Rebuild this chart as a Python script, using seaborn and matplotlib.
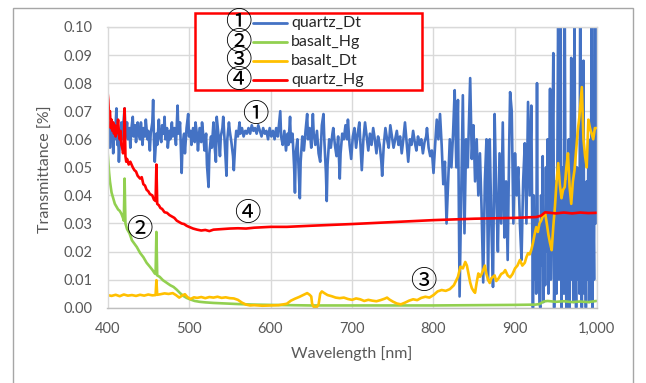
import numpy as np
import pandas as pd
import matplotlib
matplotlib.use("Agg")
import matplotlib.pyplot as plt
import seaborn as sns
from matplotlib.patches import Rectangle
from matplotlib.lines import Line2D
from matplotlib.ticker import FuncFormatter

# ---------------- data ----------------
series_names = ["quartz_Dt", "basalt_Hg", "basalt_Dt", "quartz_Hg"]
series_marks = ["\u2460", "\u2461", "\u2462", "\u2463"]
series_colors = ["#4472C4", "#92D050", "#FFC000", "#FF0000"]

x_ticks = [400, 500, 600, 700, 800, 900, 1000]
y_ticks = [0.00, 0.01, 0.02, 0.03, 0.04, 0.05, 0.06, 0.07, 0.08, 0.09, 0.10]

quartz_dt = [
    (400, .062), (401, .058), (402, .066), (403, .057), (404, .064), (405, .060), (406, .066), (407, .055),
    (408, .062), (409, .060), (411, .071), (412, .058), (413, .064), (414, .052), (415, .059), (417, .066),
    (418, .060), (419, .064), (421, .071), (422, .061), (424, .066), (425, .060), (427, .064), (428, .057),
    (429, .063), (431, .068), (432, .061), (434, .065), (435, .059), (437, .066), (438, .062), (440, .060),
    (441, .066), (443, .058), (444, .064), (446, .061), (447, .067), (449, .060), (450, .063), (452, .056),
    (453, .062), (455, .066), (456, .074), (457, .060), (458, .052), (460, .062), (461, .058), (463, .067),
    (464, .061), (466, .059), (467, .065), (469, .062), (470, .068), (471, .060), (473, .064), (474, .057),
    (476, .063), (477, .060), (479, .066), (480, .061), (482, .064), (484, .058), (486, .072), (487, .062),
    (489, .066), (491, .048), (492, .058), (494, .062), (495, .055), (497, .064), (499, .069), (500, .061),
    (502, .063), (503, .058), (505, .064), (507, .059), (508, .066), (510, .061), (511, .056), (513, .064),
    (515, .059), (516, .066), (518, .060), (519, .056), (521, .062), (522, .051), (524, .043), (525, .055),
    (527, .061), (528, .057), (530, .066), (531, .059), (533, .052), (534, .068), (536, .062), (538, .054),
    (539, .061), (541, .064), (542, .068), (544, .058), (546, .047), (547, .060), (549, .066), (550, .063),
    (552, .059), (554, .054), (555, .049), (557, .060), (558, .063), (560, .061), (562, .066), (563, .062),
    (565, .064), (567, .061), (569, .063), (571, .062), (573, .064), (575, .062), (577, .065), (579, .063),
    (581, .064), (583, .062), (585, .065), (587, .063), (589, .061), (591, .064), (593, .062), (595, .063),
    (597, .060), (599, .064), (601, .061), (603, .063), (605, .060), (607, .064), (609, .061), (611, .067),
    (612, .070), (613, .061), (615, .058), (617, .063), (619, .056), (621, .062), (622, .058), (624, .068),
    (625, .059), (627, .062), (629, .050), (630, .041), (631, .055), (633, .060), (635, .046), (636, .039),
    (637, .052), (639, .061), (641, .056), (643, .063), (645, .069), (646, .060), (648, .064), (650, .057),
    (652, .069), (653, .062), (655, .058), (657, .063), (659, .055), (661, .052), (663, .065), (665, .069),
    (666, .060), (668, .048), (669, .038), (670, .051), (672, .060), (674, .057), (676, .062), (677, .064),
    (679, .058), (681, .054), (683, .061), (685, .046), (686, .055), (688, .062), (690, .060), (692, .065),
    (694, .060), (695, .067), (697, .058), (699, .053), (701, .061), (703, .064), (705, .057), (707, .062),
    (709, .066), (711, .055), (712, .049), (714, .060), (716, .066), (718, .061), (720, .056), (722, .062),
    (724, .058), (726, .064), (728, .060), (730, .055), (732, .061), (734, .058), (736, .052), (737, .047),
    (739, .058), (741, .064), (743, .060), (745, .057), (747, .065), (749, .061), (751, .057), (753, .060),
    (755, .063), (757, .058), (759, .061), (761, .055), (763, .060), (765, .066), (767, .059), (769, .052),
    (771, .060), (773, .058), (775, .063), (777, .059), (779, .056), (781, .061), (783, .058), (785, .060),
    (787, .055), (789, .059), (791, .061), (792, .064), (794, .057), (796, .054), (798, .056), (800, .048),
    (802, .058), (804, .067), (806, .060), (808, .069), (810, .058), (812, .044), (814, .052), (816, .030),
    (818, .045), (820, .060), (822, .050), (824, .062), (826, .0775), (828, .050), (830, .074), (831, .040),
    (832, .004), (834, .040), (836, .0757), (838, .0265), (840, .060), (842, .050), (845, .0818), (847, .053),
    (849, .065), (851, .045), (853, .060), (855, .040), (857, .055), (859, .035), (861, .009), (863, .045),
    (865, .060), (867, .0098), (869, .060), (871, .030), (873, .0074), (875, .069), (877, .040), (879, .020),
    (881, .055), (883, .030), (885, .066), (887, .025), (889, .045), (891, .017), (893, .060), (894, .0768),
    (896, .070), (898, .030), (900, .055), (902, .040), (904, .050), (906, .030), (908, .017), (910, .045),
    (912, .0586), (914, .030), (916, .0733), (918, .040), (920, .072), (922, .000), (923, .040), (924, .010),
    (925, .030), (926, .005), (927, .080), (928, .010), (929, .030), (930, .002), (931, .000), (932, .040),
    (933, .015), (934, .054), (935, .002), (936, .030), (937, .008), (938, .050), (939, .020), (940, .060),
    (941, .005), (942, .040), (943, .078), (944, .010), (945, .030), (946, .060), (947, .0907), (948, .000),
    (949, .025), (950, .045), (951, .005), (952, .050), (953, .112), (954, .010), (955, .040), (956, .112),
    (957, .000), (958, .030), (959, .050), (960, .005), (961, .112), (962, .030), (963, .000), (964, .045),
    (965, .010), (966, .060), (967, .000), (968, .030), (969, .089), (970, .010), (971, .035), (972, .002),
    (973, .112), (974, .020), (975, .000), (976, .050), (977, .010), (978, .040), (979, .005), (980, .112),
    (981, .030), (982, .000), (983, .050), (984, .088), (985, .005), (986, .030), (987, .000), (988, .045),
    (989, .010), (990, .060), (991, .002), (992, .035), (993, .010), (994, .112), (995, .000), (996, .040),
    (997, .010), (998, .112), (999, .030), (1000, .112),
]

basalt_hg = [
    (400, .056), (401, .052), (402, .048), (403, .045), (405, .041), (407, .039), (409, .037), (411, .036),
    (413, .035), (415, .0345), (417, .0335), (419, .032), (420, .031), (421, .046), (422, .030), (424, .028),
    (427, .0265), (430, .024), (433, .0228), (436, .0216), (440, .0195), (444, .018), (448, .016), (452, .0146),
    (455, .0135), (458, .0122), (459, .012), (460, .027), (461, .0115), (464, .011), (468, .0098), (473, .0088),
    (477, .0080), (481, .0074), (485, .0064), (489, .0052), (493, .0042), (497, .0035), (502, .0029), (507, .0024),
    (513, .0021), (520, .0019), (530, .0017), (545, .0015), (560, .0013), (580, .0011), (600, .0010), (650, .0008),
    (700, .0008), (750, .0008), (800, .0008), (850, .0009), (900, .0010), (925, .0011), (930, .0013), (935, .0022),
    (940, .0024), (950, .0021), (960, .0023), (970, .0020), (980, .0022), (990, .0020), (1000, .0024),
]

basalt_dt = [
    (400, .0045), (405, .0042), (410, .0046), (415, .0041), (420, .0047), (425, .0043), (430, .0045), (435, .0042),
    (440, .0046), (445, .0043), (450, .0047), (455, .0044), (459, .0045), (460, .0098), (461, .0046), (465, .0048),
    (470, .0051), (475, .0049), (480, .0052), (484, .0045), (488, .0036), (492, .0044), (495, .0048), (498, .0038),
    (502, .0031), (506, .0037), (510, .0035), (515, .0038), (520, .0034), (525, .0038), (530, .0036), (535, .0039),
    (540, .0035), (545, .0037), (550, .0034), (555, .0033), (560, .0028), (565, .0018), (570, .0011), (575, .0008),
    (580, .0009), (590, .0007), (600, .0008), (610, .0009), (620, .0014), (625, .0025), (630, .0032), (635, .0038),
    (640, .0045), (645, .0052), (648, .0046), (650, .0040), (651, .0015), (653, .0003), (657, .0003), (659, .0012),
    (661, .0050), (663, .0058), (666, .0052), (670, .0045), (675, .0041), (680, .0036), (685, .0034), (690, .0036),
    (695, .0031), (700, .0028), (705, .0033), (710, .0030), (715, .0024), (720, .0028), (725, .0025), (730, .0023),
    (735, .0027), (740, .0032), (743, .0036), (746, .0029), (750, .0022), (755, .0015), (760, .0012), (765, .0018),
    (770, .0025), (775, .0030), (780, .0027), (785, .0035), (790, .0039), (795, .0036), (800, .0045), (805, .0058),
    (810, .0063), (815, .0060), (820, .0066), (825, .0080), (830, .0110), (833, .0146), (836, .0140), (839, .0163),
    (841, .0150), (843, .0120), (845, .0090), (847, .0070), (849, .0060), (851, .0053), (853, .0090), (855, .0122),
    (857, .0110), (859, .0120), (861, .0135), (863, .0150), (865, .0120), (867, .0100), (869, .0088), (871, .0105),
    (873, .0110), (875, .0115), (877, .0095), (880, .0105), (883, .0120), (886, .0125), (888, .0134), (891, .0115),
    (894, .0108), (897, .0120), (900, .0140), (903, .0150), (906, .0170), (909, .0150), (912, .0160), (914, .0180),
    (916, .0194), (918, .0190), (920, .0206), (922, .0230), (924, .0260), (926, .0287), (928, .0270), (930, .0300),
    (932, .0310), (934, .0325), (937, .0337), (939, .0300), (941, .0260), (943, .0230), (945, .0205), (947, .0290),
    (949, .0360), (951, .0450), (953, .0515), (955, .0440), (957, .0390), (959, .0420), (961, .0430), (963, .0500),
    (965, .0550), (967, .0430), (969, .0370), (971, .0450), (973, .0490), (975, .0560), (977, .0630), (979, .0680),
    (981, .0750), (982, .0786), (984, .0600), (986, .0540), (988, .0500), (990, .0670), (992, .0640), (994, .0620),
    (996, .0600), (998, .0640), (1000, .0640),
]

quartz_hg = [
    (400, .077), (401, .074), (402, .068), (403, .070), (404, .064), (405, .067), (406, .063), (407, .066),
    (408, .062), (409, .065), (410, .061), (412, .064), (413, .067), (414, .062), (415, .060), (416, .063),
    (417, .058), (418, .057), (419, .055), (420, .056), (421, .071), (422, .054), (423, .052), (424, .053),
    (426, .051), (428, .052), (431, .050), (433, .049), (435, .0485), (437, .047), (440, .046), (442, .0465),
    (444, .044), (446, .0435), (448, .042), (450, .0415), (452, .0405), (455, .040), (457, .0385), (459, .038),
    (460, .051), (461, .037), (463, .0365), (465, .0355), (467, .0352), (470, .034), (473, .0338), (476, .033),
    (479, .0325), (482, .032), (485, .031), (488, .0305), (491, .030), (494, .0298), (497, .0292), (500, .0288),
    (505, .0282), (510, .0278), (515, .0275), (520, .0277), (525, .0273), (530, .0278), (540, .0280), (550, .0282),
    (560, .0283), (570, .0282), (580, .0285), (600, .0288), (620, .0288), (650, .0292), (700, .0298), (750, .0305),
    (800, .0312), (850, .0317), (900, .0320), (926, .0323), (932, .0328), (937, .0340), (943, .0338), (950, .0336),
    (960, .0339), (970, .0336), (980, .0339), (990, .0337), (1000, .0338),
]

# label positions for the circled-number annotations (data units)
mark_pos = [(581, 0.0687), (438.5, 0.0277), (787, 0.0092), (571, 0.0334)]

# ---------------- build table ----------------
frames = []
for name, pts in zip(series_names, [quartz_dt, basalt_hg, basalt_dt, quartz_hg]):
    arr = np.array(pts)
    frames.append(pd.DataFrame({"wl": arr[:, 0], "t": arr[:, 1], "series": name}))
df = pd.concat(frames, ignore_index=True)

# ---------------- figure ----------------
sns.set_theme(style="white")
plt.rcParams["font.family"] = ["Lato", "DejaVu Sans"]

W, H = 646, 383
fig = plt.figure(figsize=(W / 100, H / 100), dpi=100)
fig.patch.set_facecolor("white")


def fx(px):
    return px / W


def fy(py):
    return 1 - py / H


ax_l, ax_r, ax_t, ax_b = 107.5, 596.5, 27.0, 307.7
ax = fig.add_axes([fx(ax_l), fy(ax_b), fx(ax_r) - fx(ax_l), fy(ax_t) - fy(ax_b)])

sns.lineplot(data=df, x="wl", y="t", hue="series", hue_order=series_names,
             palette=dict(zip(series_names, series_colors)), estimator=None, sort=False,
             legend=False, linewidth=1.9, ax=ax)

ax.set_xlim(400, 1000)
ax.set_ylim(0, 0.10)
ax.set_xticks(x_ticks)
ax.set_yticks(y_ticks)
ax.xaxis.set_major_formatter(FuncFormatter(lambda v, p: f"{int(round(v)):,}"))
ax.yaxis.set_major_formatter(FuncFormatter(lambda v, p: f"{v:.2f}"))
ax.grid(True, color="#D9D9D9", linewidth=1.0)
ax.set_axisbelow(True)
for s in ax.spines.values():
    s.set_color("#D9D9D9")
    s.set_linewidth(1.0)
ax.spines["bottom"].set_color("#BFBFBF")
ax.tick_params(axis="both", length=0, labelsize=10.5, colors="#595959")
ax.tick_params(axis="y", pad=11)
ax.tick_params(axis="x", pad=10)
ax.set_xlabel("")
ax.set_ylabel("")

# axis titles
fig.text(fx(351.5), fy(354), "Wavelength [nm]", ha="center", va="center", fontsize=11.5, color="#595959")
fig.text(fx(46), fy(169), "Transmittance [%]", ha="center", va="center", rotation=90, fontsize=11.5,
         color="#595959")

# circled-number annotations in the plot
cjk = ["Noto Sans CJK JP", "DejaVu Sans"]
mark_fs = 19
for mk, (xv, yv) in zip(series_marks, mark_pos):
    ax.text(xv, yv, mk, ha="center", va="center", fontsize=mark_fs, family=cjk, color="black")

# outer chart border
fig.patches.append(Rectangle((fx(13), -0.05), fx(633) - fx(13), fy(8) + 0.05, transform=fig.transFigure,
                             fill=False, edgecolor="#A6A6A6", linewidth=1.0))

# legend box (red frame)
fig.patches.append(Rectangle((fx(195), fy(90)), fx(422) - fx(195), fy(13) - fy(90), transform=fig.transFigure,
                             fill=True, facecolor="white", edgecolor="#FF0000", linewidth=1.8, zorder=5))
row_y = [23, 42, 61, 80]
row_step = row_y[1] - row_y[0]

# circled numbers of the legend as one multi-line text, with its line spacing fitted to the rows
renderer = fig.canvas.get_renderer()
marks_block = "\n".join(series_marks)


def line_step(spacing):
    t1 = fig.text(0, 0, series_marks[0], fontsize=mark_fs, family=cjk, linespacing=spacing)
    t4 = fig.text(0, 0, marks_block, fontsize=mark_fs, family=cjk, linespacing=spacing)
    step = (t4.get_window_extent(renderer).height - t1.get_window_extent(renderer).height) / 3
    t1.remove()
    t4.remove()
    return step


s1, s2 = line_step(1.0), line_step(2.0)
fit_spacing = 1.0 + (row_step - s1) / (s2 - s1)
fig.text(fx(238), fy(np.mean(row_y)), marks_block, ha="center", va="center", multialignment="center",
         fontsize=mark_fs, family=cjk, color="black", linespacing=fit_spacing, zorder=6)

for name, col, ry in zip(series_names, series_colors, row_y):
    fig.lines.append(Line2D([fx(253), fx(287)], [fy(ry), fy(ry)], transform=fig.transFigure,
                            color=col, linewidth=2.0, zorder=6))
    fig.text(fx(291), fy(ry), name, ha="left", va="center", fontsize=11.5, color="#262626", zorder=6)

fig.savefig("out.png", dpi=100)
